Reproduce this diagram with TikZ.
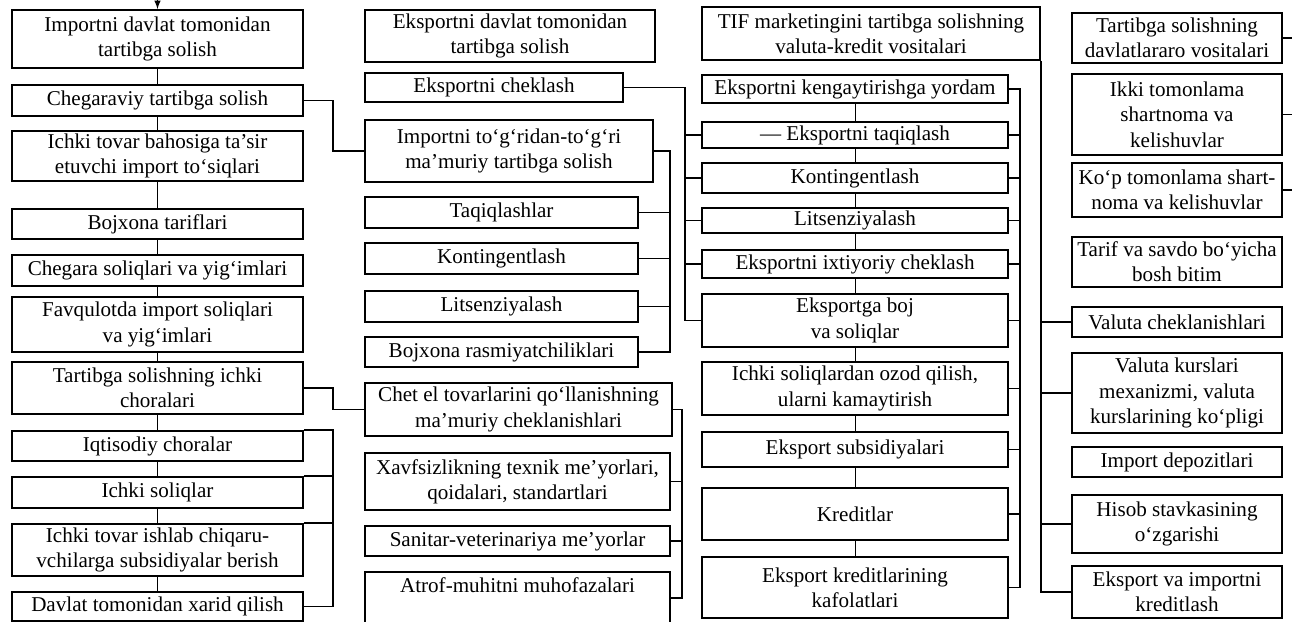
\documentclass[tikz,border=0pt]{standalone}
\usepackage{fontspec}
\setmainfont{Liberation Serif}

\begin{document}
\begin{tikzpicture}[x=0.025cm, y=-0.025cm, line width=1.1pt]
	\tikzstyle{every node}=[align=center, inner sep=1pt]
	\tikzstyle{box}=[draw, line width=1.3pt, font=\fontsize{15}{18}\selectfont]
	\tikzstyle{colA}=[box, minimum width=7.275cm]
	\tikzstyle{colC}=[box, minimum width=7.65cm]
	\tikzstyle{colD}=[box, minimum width=5.25cm]
	\useasboundingbox (0,0) rectangle (1292,621);

	% import
	\node[colA, minimum height=1.45cm]  (A1)  at (157.5, 39)    {Importni davlat tomonidan\\tartibga solish};
	\node[colA, minimum height=0.775cm] (A2)  at (157.5, 100.5) {Chegaraviy tartibga solish};
	\node[colA, minimum height=1.25cm]  (A3)  at (157.5, 156)   {Ichki tovar bahosiga ta’sir\\etuvchi import to‘siqlari};
	\node[colA, minimum height=0.75cm]  (A4)  at (157.5, 224)   {Bojxona tariflari};
	\node[colA, minimum height=0.775cm] (A5)  at (157.5, 270.5) {Chegara soliqlari va yig‘imlari};
	\node[colA, minimum height=1.375cm] (A6)  at (157.5, 324.5) {Favqulotda import soliqlari\\va yig‘imlari};
	\node[colA, minimum height=1.3cm]   (A7)  at (157.5, 388)   {Tartibga solishning ichki\\choralari};
	\node[colA, minimum height=0.75cm]  (A8)  at (157.5, 446)   {Iqtisodiy choralar};
	\node[colA, minimum height=0.775cm] (A9)  at (157.5, 492.5) {Ichki soliqlar};
	\node[colA, minimum height=1.3cm]   (A10) at (157.5, 550)   {Ichki tovar ishlab chiqaru-\\vchilarga subsidiyalar berish};
	\node[colA, minimum height=0.725cm] (A11) at (157.5, 606.5) {Davlat tomonidan xarid qilish};

	% eksport
	\node[box, minimum width=7.25cm,  minimum height=1.3cm]   (B1)  at (510, 36)    {Eksportni davlat tomonidan\\tartibga solish};
	\node[box, minimum width=6.45cm,  minimum height=0.725cm] (B2)  at (494, 87.5)  {Eksportni cheklash};
	\node[box, minimum width=7.2cm,   minimum height=1.55cm]  (B3)  at (509, 151)   {Importni to‘g‘ridan-to‘g‘ri\\ma’muriy tartibga solish};
	\node[box, minimum width=6.825cm, minimum height=0.775cm] (B4)  at (501.5, 212.5) {Taqiqlashlar};
	\node[box, minimum width=6.825cm, minimum height=0.775cm] (B5)  at (501.5, 258.5) {Kontingentlash};
	\node[box, minimum width=6.825cm, minimum height=0.775cm] (B6)  at (501.5, 306.5) {Litsenziyalash};
	\node[box, minimum width=6.825cm, minimum height=0.75cm]  (B7)  at (501.5, 352)   {Bojxona rasmiyatchiliklari};
	\node[box, minimum width=7.675cm, minimum height=1.325cm] (B8)  at (518.5, 409.5) {Chet el tovarlarini qo‘llanishning\\ma’muriy cheklanishlari};
	\node[box, minimum width=7.625cm, minimum height=1.425cm] (B9)  at (517.5, 481.5) {Xavfsizlikning texnik me’yorlari,\\qoidalari, standartlari};
	\node[box, minimum width=7.625cm, minimum height=0.75cm]  (B10) at (517.5, 541)   {Sanitar-veterinariya me’yorlar};
	\node[box, minimum width=7.625cm, minimum height=1.3cm]   (B11) at (517.5, 598)   {Atrof-muhitni muhofazalari\\\mbox{}};

	% valuta-kredit
	\node[box, minimum width=8.45cm, minimum height=1.325cm] (C1) at (871, 33.5) {TIF marketingini tartibga solishning\\valuta-kredit vositalari};
	\node[colC, minimum height=0.7cm]   (C2)  at (855, 89)    {Eksportni kengaytirishga yordam};
	\node[colC, minimum height=0.65cm]  (C3)  at (855, 135)   {— Eksportni taqiqlash};
	\node[colC, minimum height=0.75cm]  (C4)  at (855, 178)   {Kontingentlash};
	\node[colC, minimum height=0.625cm] (C5)  at (855, 220.5) {Litsenziyalash};
	\node[colC, minimum height=0.7cm]   (C6)  at (855, 264)   {Eksportni ixtiyoriy cheklash};
	\node[colC, minimum height=1.325cm] (C7)  at (855, 320.5) {Eksportga boj\\va soliqlar};
	\node[colC, minimum height=1.325cm] (C8)  at (855, 388.5) {Ichki soliqlardan ozod qilish,\\ularni kamaytirish};
	\node[colC, minimum height=0.875cm] (C9)  at (855, 449.5) {Eksport subsidiyalari};
	\node[colC, minimum height=1.3cm]   (C10) at (855, 514)   {Kreditlar};
	\node[colC, minimum height=1.525cm] (C11) at (855, 587.5) {Eksport kreditlarining\\kafolatlari};

	% davlatlararo
	\node[colD, minimum height=1.25cm]  (D1) at (1177, 38)    {Tartibga solishning\\davlatlararo vositalari};
	\node[colD, minimum height=2.025cm] (D2) at (1177, 114.5) {Ikki tomonlama\\shartnoma va\\kelishuvlar};
	\node[colD, minimum height=1.35cm]  (D3) at (1177, 190)   {Ko‘p tomonlama shart-\\noma va kelishuvlar};
	\node[colD, minimum height=1.25cm]  (D4) at (1177, 262)   {Tarif va savdo bo‘yicha\\bosh bitim};
	\node[colD, minimum height=0.75cm]  (D5) at (1177, 322)   {Valuta cheklanishlari};
	\node[colD, minimum height=2.0cm]   (D6) at (1177, 393)   {Valuta kurslari\\mexanizmi, valuta\\kurslarining ko‘pligi};
	\node[colD, minimum height=0.75cm]  (D7) at (1177, 462)   {Import depozitlari};
	\node[colD, minimum height=1.45cm]  (D8) at (1177, 524)   {Hisob stavkasining\\o‘zgarishi};
	\node[colD, minimum height=1.3cm]   (D9) at (1177, 592)   {Eksport va importni\\kreditlash};

	\coordinate (top) at (157.5, 0);
	\coordinate (kA) at (333, 0);
	\coordinate (kB) at (670, 0);
	\coordinate (kC) at (682, 0);
	\coordinate (kD) at (685, 0);
	\coordinate (kE) at (1020, 0);
	\coordinate (kF) at (1041, 0);
	\coordinate (kG) at (1292, 0);

	\draw[-latex] (top) -- (A1);
	\foreach \a/\b in {A1/A2, A2/A3, A3/A4, A4/A5, A5/A6, A6/A7, A7/A8, A8/A9, A9/A10, A10/A11}
		\draw[line width=0.7pt] (\a) -- (\b);
	\foreach \a/\b in {C2/C3, C3/C4, C4/C5, C5/C6, C6/C7, C7/C8, C8/C9, C9/C10, C10/C11}
		\draw[line width=0.7pt] (\a) -- (\b);

	\draw (A2.east) -- (A2.east -| kA) |- (B3.west);
	\draw (A7.east) -- (A7.east -| kA) |- (B8.west);
	\draw (A8.north east) -- (A8.north east -| kA) |- (A11.east);
	\draw (A9.north east) -- (A9.north east -| kA);
	\draw (A10.north east) -- (A10.north east -| kA);

	\draw (B3.east) -- (B3.east -| kB) |- (B7.east);
	\foreach \b in {B4, B5, B6}
		\draw (\b.east) -- (\b.east -| kB);
	\draw (B8.east) -- (B8.east -| kC) |- (B11.east);
	\foreach \b in {B9, B10}
		\draw (\b.east) -- (\b.east -| kC);

	\draw (B2.east) -- (B2.east -| kD) |- (C7.west);
	\foreach \c in {C3, C4, C5, C6}
		\draw (\c.west) -- (\c.west -| kD);
	\draw (C2.east) -- (C2.east -| kE) |- (C11.east);
	\foreach \c in {C3, C4, C5, C6, C7, C8, C9, C10}
		\draw (\c.east) -- (\c.east -| kE);

	\draw (C1.south -| kF) |- (D9.west);
	\foreach \d in {D5, D6, D8}
		\draw (\d.west) -- (\d.west -| kF);
	\foreach \d in {D1, D2, D3}
		\draw (\d.east) -- (\d.east -| kG);
\end{tikzpicture}
\end{document}
